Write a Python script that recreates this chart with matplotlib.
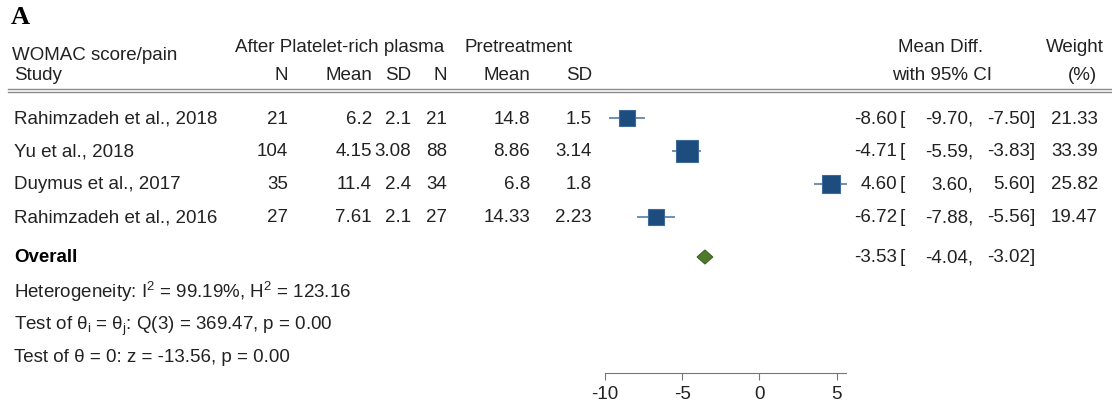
import numpy as np
import matplotlib
matplotlib.use("Agg")
import matplotlib.pyplot as plt
from matplotlib.patches import Polygon

plt.rcParams['font.family'] = ['Liberation Sans', 'DejaVu Sans']
plt.rcParams['axes.unicode_minus'] = False
plt.rcParams['mathtext.default'] = 'regular'

# study data
studies = ['Rahimzadeh et al., 2018', 'Yu et al., 2018', 'Duymus et al., 2017', 'Rahimzadeh et al., 2016']
prp_n = [21, 104, 35, 27]
prp_mean = [6.2, 4.15, 11.4, 7.61]
prp_sd = [2.1, 3.08, 2.4, 2.1]
pre_n = [21, 88, 34, 27]
pre_mean = [14.8, 8.86, 6.8, 14.33]
pre_sd = [1.5, 3.14, 1.8, 2.23]
md = [-8.60, -4.71, 4.60, -6.72]
md_lo = [-9.70, -5.59, 3.60, -7.88]
md_hi = [-7.50, -3.83, 5.60, -5.56]
weight = [21.33, 33.39, 25.82, 19.47]
overall = [-3.53, -4.04, -3.02]
stats_lines = ['Heterogeneity: I$^{2}$ = 99.19%, H$^{2}$ = 123.16',
               'Test of \u03b8$_{i}$ = \u03b8$_{j}$: Q(3) = 369.47, p = 0.00',
               'Test of \u03b8 = 0: z = -13.56, p = 0.00']
xticks = [-10, -5, 0, 5]

W, H = 1112, 410
fig = plt.figure(figsize=(W / 100, H / 100), dpi=100)
fig.patch.set_facecolor('white')

# text layer in pixel coordinates
tx = fig.add_axes([0, 0, 1, 1])
tx.set_xlim(0, W)
tx.set_ylim(H, 0)
tx.axis('off')

# forest layer: x in mean difference units
fx = fig.add_axes([605 / W, 0, (846 - 605) / W, 1])
fx.set_xlim(-10, 5.6)
fx.set_ylim(H, 0)
fx.patch.set_alpha(0)
for s in ['top', 'left', 'right']:
    fx.spines[s].set_visible(False)
fx.spines['bottom'].set_position(('data', 374))
fx.spines['bottom'].set_color('#777777')
fx.spines['bottom'].set_bounds(-10, 5.6)
fx.set_yticks([])
fx.set_xticks(xticks)
fx.tick_params(axis='x', direction='out', length=5, color='#777777',
               labelsize=13.5, labelcolor='#222222', pad=4)

fs = 13.5
col = '#222222'
tx.text(11, 18, 'A', fontsize=19, fontweight='bold', family='Liberation Serif',
        va='center', color='black')

# header
tx.text(12, 56, 'WOMAC score/pain', fontsize=fs, va='center', color=col)
tx.text(14, 76, 'Study', fontsize=fs, va='center', color=col)
tx.text(340, 48, 'After Platelet-rich plasma', fontsize=fs, va='center', ha='center', color=col)
tx.text(519, 48, 'Pretreatment', fontsize=fs, va='center', ha='center', color=col)
tx.text(941, 48, 'Mean Diff.', fontsize=fs, va='center', ha='center', color=col)
tx.text(942, 76, 'with 95% CI', fontsize=fs, va='center', ha='center', color=col)
tx.text(1075, 48, 'Weight', fontsize=fs, va='center', ha='center', color=col)
tx.text(1082, 76, '(%)', fontsize=fs, va='center', ha='center', color=col)
col_x = [288, 372, 411, 447, 530, 592]
for x, lab in zip(col_x, ['N', 'Mean', 'SD', 'N', 'Mean', 'SD']):
    tx.text(x, 76, lab, fontsize=fs, va='center', ha='right', color=col)
tx.plot([8, W], [89.5, 89.5], color='#8a8a8a', lw=1)
tx.plot([8, W], [92.5, 92.5], color='#8a8a8a', lw=1)

row_y = [119 + 33 * i for i in range(len(studies))]
for i, y in enumerate(row_y):
    tx.text(14, y, studies[i], fontsize=fs, va='center', color=col)
    vals = [prp_n[i], prp_mean[i], prp_sd[i], pre_n[i], pre_mean[i], pre_sd[i]]
    for x, v in zip(col_x, vals):
        tx.text(x, y, str(v), fontsize=fs, va='center', ha='right', color=col)
    tx.text(897, y, f'{md[i]:.2f}', fontsize=fs, va='center', ha='right', color=col)
    tx.text(900, y, '[', fontsize=fs, va='center', ha='left', color=col)
    tx.text(973, y, f'{md_lo[i]:.2f},', fontsize=fs, va='center', ha='right', color=col)
    tx.text(1035, y, f'{md_hi[i]:.2f}]', fontsize=fs, va='center', ha='right', color=col)
    tx.text(1098, y, f'{weight[i]:.2f}', fontsize=fs, va='center', ha='right', color=col)

    fx.plot([md_lo[i], md_hi[i]], [y, y], color='#6e8fb5', lw=1.4, zorder=2, clip_on=False)
    side = 3.65 * np.sqrt(weight[i]) * 0.72
    fx.plot(md[i], y, marker='s', ms=side, color='#1c4d7e', mec='#3d6a98', mew=0.8,
            zorder=3, clip_on=False)

# overall
oy = 258
tx.text(14, oy, 'Overall', fontsize=fs, fontweight='bold', va='center', color='black')
tx.text(897, oy, f'{overall[0]:.2f}', fontsize=fs, va='center', ha='right', color=col)
tx.text(900, oy, '[', fontsize=fs, va='center', ha='left', color=col)
tx.text(973, oy, f'{overall[1]:.2f},', fontsize=fs, va='center', ha='right', color=col)
tx.text(1035, oy, f'{overall[2]:.2f}]', fontsize=fs, va='center', ha='right', color=col)
dia = Polygon([(overall[1], oy), (overall[0], oy - 7), (overall[2], oy), (overall[0], oy + 7)],
              closed=True, facecolor='#4f7a2c', edgecolor='#3d6322', lw=0.8, zorder=3)
fx.add_patch(dia)

# heterogeneity and tests, aligned on baseline so sub/superscripts do not shift rows
for k, line in enumerate(stats_lines):
    tx.text(14, 298 + 32 * k, line, fontsize=fs, va='baseline', color=col)

fig.savefig('out.png', dpi=100, facecolor='white')
